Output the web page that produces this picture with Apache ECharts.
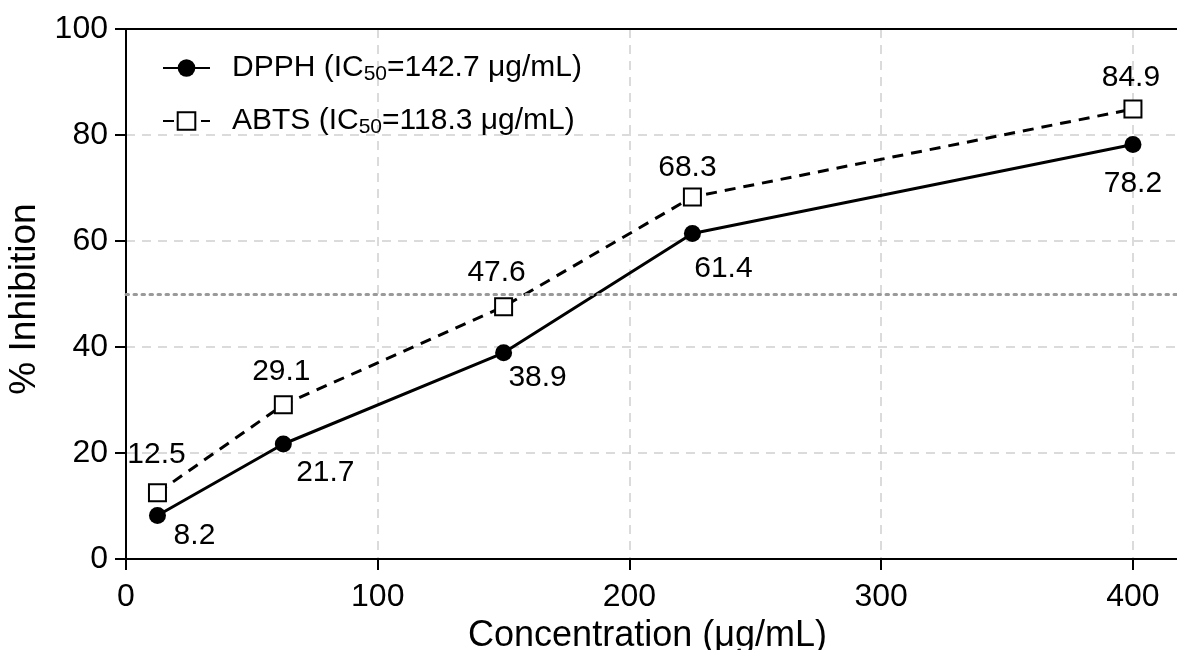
<!DOCTYPE html>
<html>
<head>
<meta charset="utf-8">
<script src="https://cdn.jsdelivr.net/npm/echarts@6/dist/echarts.min.js"></script>
<style>
  html, body { margin: 0; padding: 0; background: #fff; }
  #main { width: 1177px; height: 650px; }
</style>
</head>
<body>
<div id="main"></div>
<script>
  // data
  const concentrations = [12.5, 62.5, 150, 225, 400]
  const dpphValues = [8.2, 21.7, 38.9, 61.4, 78.2]
  const abtsValues = [12.5, 29.1, 47.6, 68.3, 84.9]
  const xTicks = [0, 100, 200, 300, 400]
  const seriesNames = ['DPPH', 'ABTS']
  const ic50Values = ['142.7', '118.3']
  const halfLine = 50

  // label placement (pixels, relative to the marker)
  const dpphLabelOffsets = [[37, 20], [42, 29], [34, 25], [31, 35], [0, 39]]
  const abtsLabelOffsets = [[-1, -38], [-2, -33], [-7, -34], [-5, -29], [-2, -31]]

  const FONT = 'Liberation Sans, Arial, Helvetica, sans-serif'

  function buildData(values, offsets) {
    return values.map((v, i) => ({
      value: [concentrations[i], v],
      label: { offset: offsets[i] },
    }))
  }

  const chart = echarts.init(document.getElementById('main'))

  const option = {
    animation: false,
    backgroundColor: '#fff',
    textStyle: { fontFamily: FONT, color: '#000' },
    grid: { left: 126, right: 0, top: 29, bottom: 91, containLabel: false, outerBoundsMode: 'none' },
    legend: {
      orient: 'vertical',
      left: 157,
      top: 42,
      itemWidth: 47,
      itemHeight: 22,
      itemGap: 15,
      data: seriesNames,
      formatter: (name) => {
        const ic = ic50Values[seriesNames.indexOf(name)]
        return '{t|' + name + ' (IC}{s|50}{t|=' + ic + ' μg/mL)}'
      },
      textStyle: {
        fontFamily: FONT,
        color: '#000',
        padding: [0, 0, 0, 17],
        rich: {
          t: { fontSize: 30, fontFamily: FONT, color: '#000', lineHeight: 34 },
          s: { fontSize: 21, fontFamily: FONT, color: '#000', lineHeight: 20, verticalAlign: 'bottom', padding: [17, 0, 0, 0] },
        },
      },
    },
    xAxis: [
      {
        type: 'value',
        min: 0,
        max: 417.5,
        name: 'Concentration (μg/mL)',
        nameLocation: 'middle',
        nameGap: 58,
        nameTextStyle: { fontSize: 36, color: '#000', fontFamily: FONT, padding: [0, 8, 0, 0] },
        axisLine: { lineStyle: { color: '#000', width: 2 } },
        axisTick: { show: true, length: 11, customValues: xTicks, lineStyle: { color: '#000', width: 2 } },
        axisLabel: { fontSize: 32, color: '#000', margin: 22, fontFamily: FONT, customValues: xTicks },
        splitLine: { show: true, lineStyle: { color: '#cfcfcf', width: 1.5, type: [9, 7] } },
      },
      {
        type: 'value',
        position: 'top',
        min: 0,
        max: 417.5,
        axisLine: { show: true, lineStyle: { color: '#000', width: 2 } },
        axisTick: { show: false },
        axisLabel: { show: false },
        splitLine: { show: false },
      },
    ],
    yAxis: {
      type: 'value',
      min: 0,
      max: 100,
      interval: 20,
      name: '% Inhibition',
      nameLocation: 'middle',
      nameGap: 78,
      nameTextStyle: { fontSize: 37, color: '#000', fontFamily: FONT, padding: [0, 10, 0, 0] },
      axisLine: { show: true, lineStyle: { color: '#000', width: 2 } },
      axisTick: { show: true, length: 11, lineStyle: { color: '#000', width: 2 } },
      axisLabel: { fontSize: 32, color: '#000', margin: 18, fontFamily: FONT },
      splitLine: { show: true, lineStyle: { color: '#cfcfcf', width: 1.5, type: [9, 7] } },
    },
    series: [
      {
        name: seriesNames[0],
        type: 'line',
        symbol: 'circle',
        symbolSize: 17,
        z: 3,
        lineStyle: { color: '#000', width: 3 },
        itemStyle: { color: '#000' },
        label: {
          show: true,
          position: 'inside',
          fontSize: 30,
          color: '#000',
          fontFamily: FONT,
          formatter: (p) => p.value[1].toFixed(1),
        },
        data: buildData(dpphValues, dpphLabelOffsets),
        markLine: {
          silent: true,
          symbol: 'none',
          label: { show: false },
          lineStyle: { color: '#9a9a9a', width: 3, type: [2.5, 5.5], cap: 'round' },
          data: [{ yAxis: halfLine }],
        },
      },
      {
        name: seriesNames[1],
        type: 'line',
        symbol: 'rect',
        symbolSize: 17,
        z: 3,
        lineStyle: { color: '#000', width: 3, type: [11, 8] },
        itemStyle: { color: '#fff', borderColor: '#000', borderWidth: 2 },
        label: {
          show: true,
          position: 'inside',
          fontSize: 30,
          color: '#000',
          fontFamily: FONT,
          formatter: (p) => p.value[1].toFixed(1),
        },
        data: buildData(abtsValues, abtsLabelOffsets),
      },
    ],
  }

  chart.setOption(option)
</script>
</body>
</html>
